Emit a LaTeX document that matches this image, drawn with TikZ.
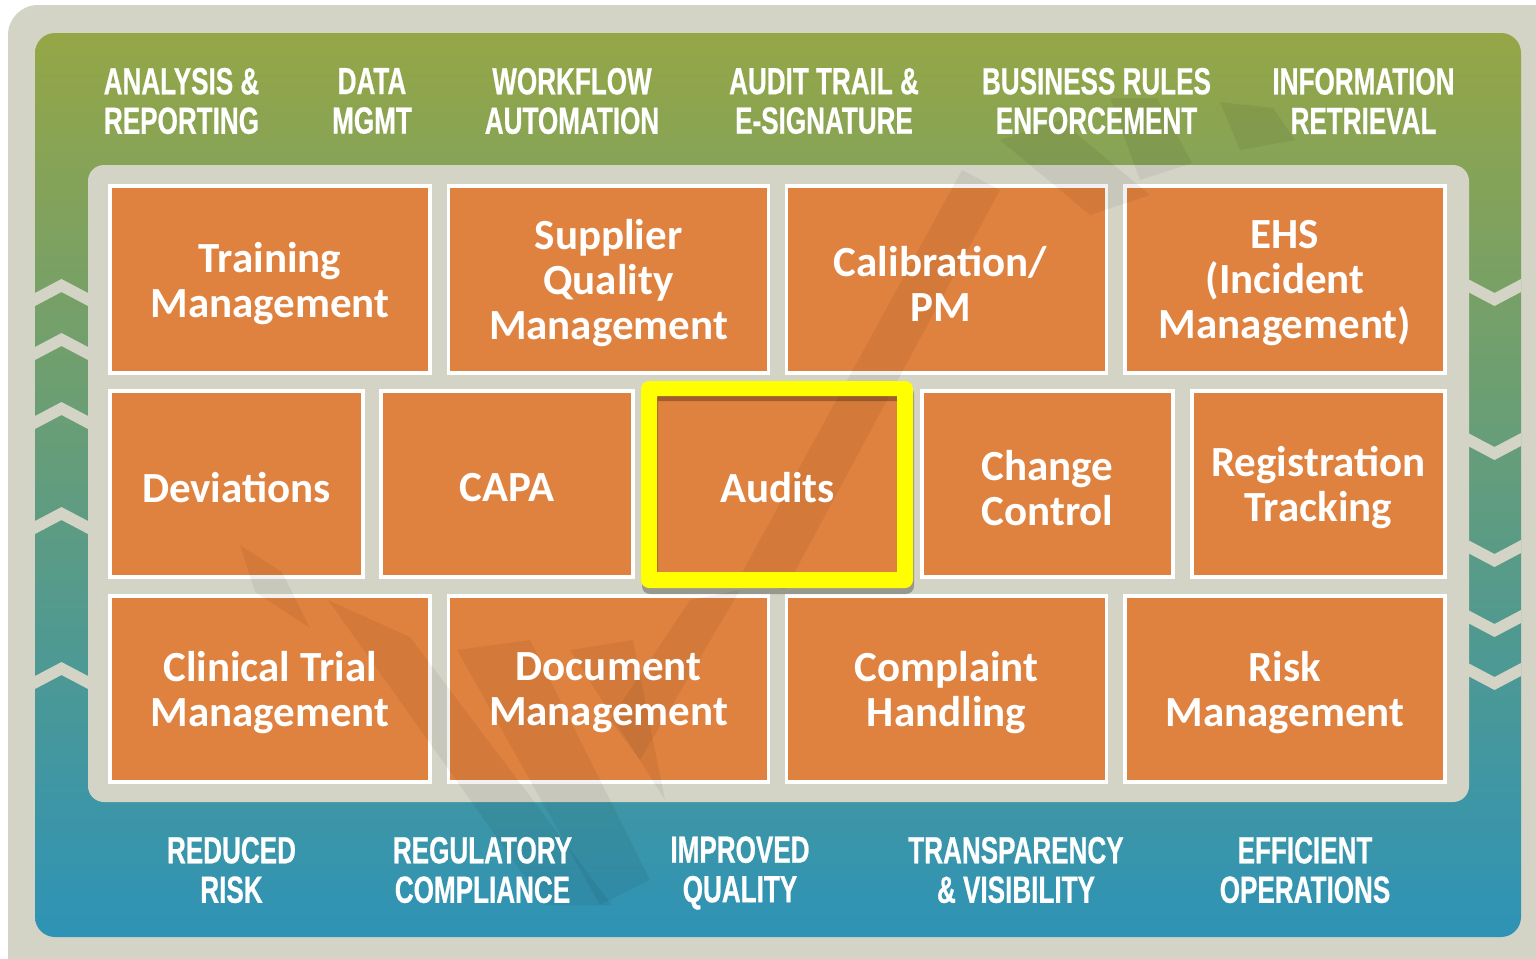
\documentclass[tikz,border=0pt]{standalone}
\usepackage{fontspec}
\setmainfont{Carlito}
\newfontfamily\headfont{Liberation Sans}[FakeStretch=0.69,FakeBold=0.6]
\definecolor{panelgray}{HTML}{D3D4C6}
\definecolor{boxorange}{HTML}{E0823F}
\definecolor{gtop}{HTML}{95A646}
\definecolor{gmid}{HTML}{76A07C}
\definecolor{gbot}{HTML}{2E93B6}
\definecolor{hiyellow}{HTML}{FFFF00}
\begin{document}
\begin{tikzpicture}[x=0.5pt,y=-0.5pt,
  obox/.style={draw=white, line width=1.6pt, fill=boxorange, inner sep=0pt},
  lbl/.style={text=white, font=\fontsize{21.5}{22.5}\selectfont\bfseries, align=center, inner sep=0pt, yshift=-2pt},
  head/.style={text=white, font=\headfont\bfseries\fontsize{18.9}{19.75}\selectfont, align=center, inner sep=0pt},
  chev/.style={fill=panelgray},
  wm/.style={fill=black, opacity=0.055}]
\useasboundingbox (0,0) rectangle (1536,958);
\fill[white] (0,0) rectangle (1536,958);
\begin{scope}
  \clip (0,0) rectangle (1536,958);
  \fill[panelgray, rounded corners=15pt] (8,5) rectangle (1580,1000);
\end{scope}
% gradient band
\shade[top color=gtop, middle color=gmid, bottom color=gbot, rounded corners=10pt] (35,33) rectangle (1521,937);
% inner panel
\fill[panelgray, rounded corners=8pt] (88,165) rectangle (1469,802);
% chevrons
\foreach \y in {279,333,402,507,662}
  \fill[chev] (35,{\y+14}) -- (61.5,\y) -- (88,{\y+14}) -- (88,{\y+27}) -- (61.5,{\y+13}) -- (35,{\y+27}) -- cycle;
\foreach \y in {279,433,540,610,663}
  \fill[chev] (1468,\y) -- (1494.5,{\y+14}) -- (1521,\y) -- (1521,{\y+13}) -- (1494.5,{\y+27}) -- (1468,{\y+13}) -- cycle;
% boxes
\node[obox, minimum width=160pt, minimum height=93.5pt] (tm) at (270,279.5) {};
\node[obox, minimum width=160pt, minimum height=93.5pt] (sq) at (608.5,279.5) {};
\node[obox, minimum width=160pt, minimum height=93.5pt] (cp) at (946.5,279.5) {};
\node[obox, minimum width=160pt, minimum height=93.5pt] (eh) at (1285,279.5) {};
\node[obox, minimum width=126.5pt, minimum height=93pt] (dv) at (236.5,484) {};
\node[obox, minimum width=126pt, minimum height=93pt] (ca) at (507,484) {};
\node[obox, minimum width=125.5pt, minimum height=93pt] (au) at (777.5,484) {};
\node[obox, minimum width=125.5pt, minimum height=93pt] (cc) at (1047.5,484) {};
\node[obox, minimum width=126.5pt, minimum height=93pt] (rt) at (1318.5,484) {};
\node[obox, minimum width=160pt, minimum height=93pt] (ct) at (270,689) {};
\node[obox, minimum width=160pt, minimum height=93pt] (dm) at (608.5,689) {};
\node[obox, minimum width=160pt, minimum height=93pt] (ch) at (946.5,689) {};
\node[obox, minimum width=160pt, minimum height=93pt] (rm) at (1285,689) {};
% watermark
\begin{scope}
  \clip[rounded corners=10pt] (35,33) rectangle (1521,937);
  \fill[wm] (240,545) -- (282,572) -- (310,628) -- (255,592) -- cycle;
  \fill[wm] (328,600) -- (410,637) -- (612,905) -- (545,905) -- cycle;
  \fill[wm] (457,650) -- (530,640) -- (650,880) -- (600,905) -- cycle;
  \fill[wm] (570,650) -- (633,640) -- (665,800) -- cycle;
  \fill[wm] (962,170) -- (1000,190) -- (785,590) -- (738,580) -- cycle;
  \fill[wm] (1000,140) -- (1060,120) -- (1150,195) -- (1090,215) -- cycle;
  \fill[wm] (1110,98) -- (1157,98) -- (1192,163) -- (1140,180) -- cycle;
  \fill[wm] (1220,102) -- (1273,108) -- (1295,140) -- (1240,150) -- cycle;
  \fill[wm] (690,600) -- (740,590) -- (640,760) -- (610,720) -- cycle;
\end{scope}
% highlight frame
\fill[black, opacity=0.28, even odd rule] [rounded corners=4pt] (642,386) rectangle (914,594) [sharp corners] (658,401) rectangle (898,578);
\fill[hiyellow, even odd rule] [rounded corners=4pt] (641,381) rectangle (913,588) [sharp corners] (657,396) rectangle (897,572);
% labels
\node[lbl] at (tm) {Training\\Management};
\node[lbl] at (sq) {Supplier\\Quality\\Management};
\node[lbl, xshift=-3pt] at (cp) {Calibration/\\PM};
\node[lbl] at (eh) {EHS\\(Incident\\Management)};
\node[lbl] at (dv) {Deviations};
\node[lbl] at (ca) {CAPA};
\node[lbl] at (au) {Audits};
\node[lbl] at (cc) {Change\\Control};
\node[lbl] at (rt) {Registration\\Tracking};
\node[lbl] at (ct) {Clinical Trial\\Management};
\node[lbl] at (dm) {Document\\Management};
\node[lbl] at (ch) {Complaint\\Handling};
\node[lbl] at (rm) {Risk\\Management};
% top headings
\node[head] (h1) at (181.5,101) {ANALYSIS \&\\REPORTING};
\node[head] (h2) at (372,101) {DATA\\MGMT};
\node[head] (h3) at (572,101) {WORKFLOW\\AUTOMATION};
\node[head] (h4) at (824,101) {AUDIT TRAIL \&\\E-SIGNATURE};
\node[head] (h5) at (1096.5,101) {BUSINESS RULES\\ENFORCEMENT};
\node[head] (h6) at (1363.5,101) {INFORMATION\\RETRIEVAL};
% bottom headings
\node[head] (b1) at (231.5,870) {REDUCED\\RISK};
\node[head] (b2) at (482.5,870) {REGULATORY\\COMPLIANCE};
\node[head] (b3) at (740,873) {IMPROVED\\QUALITY};
\node[head] (b4) at (1016,870) {TRANSPARENCY\\\& VISIBILITY};
\node[head] (b5) at (1305,870) {EFFICIENT\\OPERATIONS};
\end{tikzpicture}
\end{document}
